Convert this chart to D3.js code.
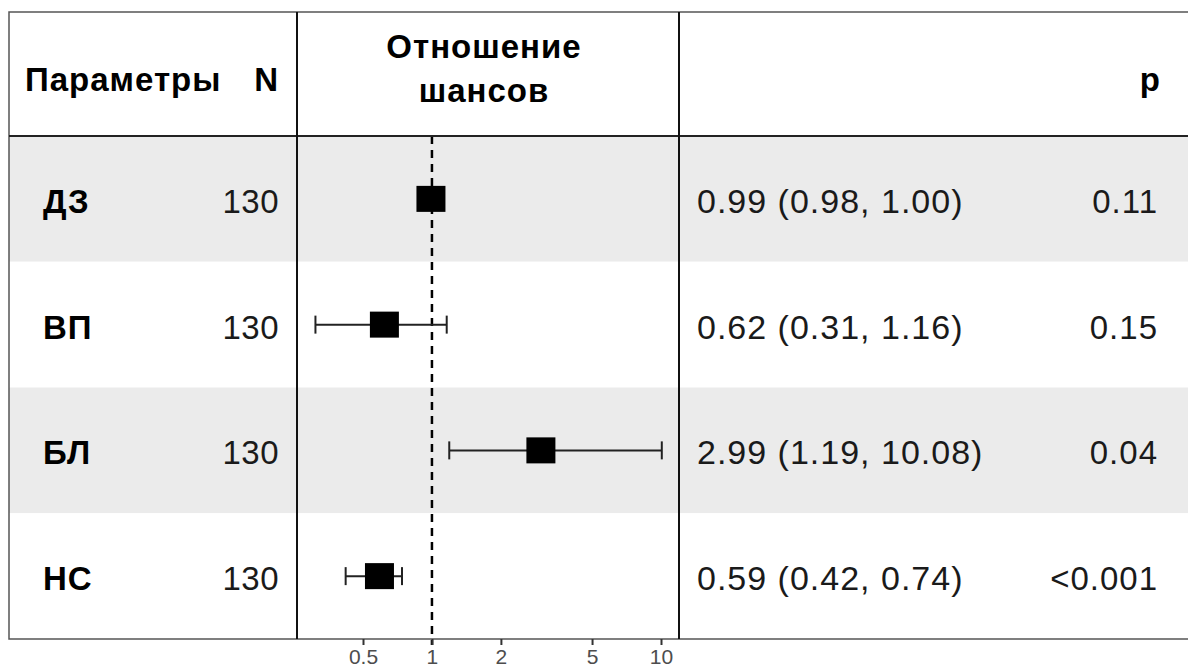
<!DOCTYPE html>
<html>
<head>
<meta charset="utf-8">
<script src="https://cdnjs.cloudflare.com/ajax/libs/d3/7.8.5/d3.min.js"></script>
<style>
  body { margin: 0; background: #fff; }
  text { font-family: "Liberation Sans", Arial, sans-serif; }
</style>
</head>
<body>
<svg width="1188" height="669"></svg>
<script>
// forest plot data
var params = ["ДЗ", "ВП", "БЛ", "НС"]
var nVals = [130, 130, 130, 130]
var orVals = [0.99, 0.62, 2.99, 0.59]
var ciLow = [0.98, 0.31, 1.19, 0.42]
var ciHigh = [1.00, 1.16, 10.08, 0.74]
var pLabels = ["0.11", "0.15", "0.04", "<0.001"]
var tickVals = [0.5, 1, 2, 5, 10]

var rows = params.map(function (d, i) {
    return { name: d, n: nVals[i], or: orVals[i], lo: ciLow[i], hi: ciHigh[i], p: pLabels[i] }
})

var svg = d3.select("svg")

var frameL = 9, frameT = 12, headBottom = 136, frameB = 639, frameR = 1205
var col1 = 297, col2 = 679

var y = d3.scaleBand()
    .domain(params)
    .range([headBottom, frameB])

var x = d3.scaleLog()
    .domain([0.5, 10])
    .range([363, 661])

var fmt = d3.format(".2f")

// row bands
svg.append("g")
    .selectAll("rect")
    .data(rows)
    .enter().append("rect")
    .attr("x", frameL)
    .attr("y", function (d) { return y(d.name) })
    .attr("width", frameR - frameL)
    .attr("height", y.bandwidth())
    .attr("fill", function (d, i) { return i % 2 == 0 ? "#ebebeb" : "#fff" })

// reference line at 1
svg.append("line")
    .attr("x1", x(1)).attr("x2", x(1))
    .attr("y1", headBottom).attr("y2", frameB + 6)
    .attr("stroke", "#000")
    .attr("stroke-width", 2.5)
    .attr("stroke-dasharray", "8,6")

// error bars
var bars = svg.append("g").selectAll("g")
    .data(rows)
    .enter().append("g")
    .attr("transform", function (d) { return "translate(0," + (y(d.name) + y.bandwidth() / 2) + ")" })

bars.append("line")
    .attr("x1", function (d) { return x(d.lo) })
    .attr("x2", function (d) { return x(d.hi) })
    .attr("stroke", "#222")
    .attr("stroke-width", 2)

bars.selectAll(".cap")
    .data(function (d) { return [d.lo, d.hi] })
    .enter().append("line")
    .attr("class", "cap")
    .attr("x1", function (v) { return x(v) })
    .attr("x2", function (v) { return x(v) })
    .attr("y1", -9).attr("y2", 9)
    .attr("stroke", "#222")
    .attr("stroke-width", 2)

bars.append("rect")
    .attr("x", function (d) { return x(d.or) - 14.5 })
    .attr("y", -13)
    .attr("width", 29)
    .attr("height", 26)
    .attr("fill", "#000")

// frame and column lines
svg.append("rect")
    .attr("x", frameL).attr("y", frameT)
    .attr("width", frameR - frameL).attr("height", frameB - frameT)
    .attr("fill", "none")
    .attr("stroke", "#555")
    .attr("stroke-width", 1.5)

svg.append("line")
    .attr("x1", frameL).attr("x2", frameR)
    .attr("y1", headBottom).attr("y2", headBottom)
    .attr("stroke", "#222").attr("stroke-width", 2)

;[col1, col2].forEach(function (cx) {
    svg.append("line")
        .attr("x1", cx).attr("x2", cx)
        .attr("y1", frameT).attr("y2", frameB)
        .attr("stroke", "#111").attr("stroke-width", 2)
})

// x axis ticks
var axis = svg.append("g")
    .attr("transform", "translate(0," + frameB + ")")
    .call(d3.axisBottom(x).tickValues(tickVals).tickSize(6).tickPadding(4)
        .tickFormat(function (d) { return d }))
axis.select(".domain").remove()
axis.attr("font-size", 21).attr("font-family", "Liberation Sans, Arial, sans-serif")
axis.selectAll("line").attr("stroke", "#333").attr("stroke-width", 2)
axis.selectAll("text").attr("fill", "#4d4d4d")

// header
var head = svg.append("g").attr("font-weight", "bold").attr("fill", "#000")
    .style("font-size", "33px").style("letter-spacing", "1px")
head.append("text").attr("x", 25).attr("y", 91).text("Параметры")
head.append("text").attr("x", 279).attr("y", 91).attr("text-anchor", "end").text("N")
head.append("text").attr("x", 484).attr("y", 58).attr("text-anchor", "middle").text("Отношение")
head.append("text").attr("x", 484).attr("y", 102).attr("text-anchor", "middle").text("шансов")
head.append("text").attr("x", 1161).attr("y", 91).attr("text-anchor", "end").text("p")

// row texts
var txt = svg.append("g").selectAll("g")
    .data(rows)
    .enter().append("g")
    .attr("transform", function (d) { return "translate(0," + (y(d.name) + y.bandwidth() / 2 + 14) + ")" })

txt.append("text").attr("x", 43).attr("font-weight", "bold").style("font-size", "33px")
    .style("letter-spacing", "1px").attr("fill", "#000")
    .text(function (d) { return d.name })
txt.append("text").attr("x", 279).attr("text-anchor", "end").style("font-size", "33px")
    .style("letter-spacing", "0.5px").attr("fill", "#1a1a1a")
    .text(function (d) { return d.n })
txt.append("text").attr("x", 697).style("font-size", "34px")
    .style("letter-spacing", "1px").attr("fill", "#1a1a1a")
    .text(function (d) { return fmt(d.or) + " (" + fmt(d.lo) + ", " + fmt(d.hi) + ")" })
txt.append("text").attr("x", 1158).attr("text-anchor", "end").style("font-size", "33px")
    .style("letter-spacing", "1px").attr("fill", "#1a1a1a")
    .text(function (d) { return d.p })
</script>
</body>
</html>
